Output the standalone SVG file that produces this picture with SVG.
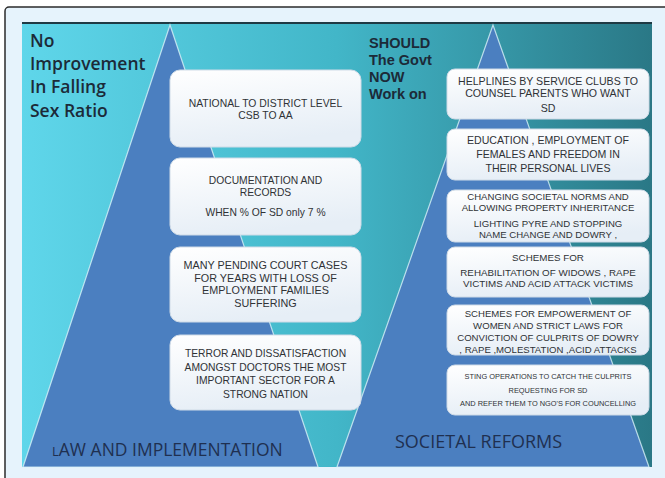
<svg xmlns="http://www.w3.org/2000/svg" width="665" height="478" viewBox="0 0 665 478">
  <style>
    .head { font-family: "Open Sans", "Liberation Sans", sans-serif; fill: #1c2a38; }
    .head-b { font-family: "Liberation Sans", Arial, sans-serif; font-weight: 700; fill: #1c2a38; }
    .base { font-family: "Open Sans", "Liberation Sans", sans-serif; fill: #1f3050; }
    .box { fill: url(#boxFill); stroke: #cfdbe7; stroke-width: 1; }
    .txt { font-family: "Liberation Sans", Arial, sans-serif; fill: #2f3236; text-anchor: middle; }
    .tri { fill: #4b7fc0; stroke: #d8f2f8; stroke-width: 1.2; stroke-opacity: 0.8; }
  </style>
  <defs>
    <linearGradient id="slideFill" x1="0" y1="0" x2="1" y2="0">
      <stop offset="0" stop-color="#5fd6ea"/>
      <stop offset="0.5" stop-color="#42b6c8"/>
      <stop offset="1" stop-color="#2a7886"/>
    </linearGradient>
    <linearGradient id="boxFill" x1="0" y1="0" x2="0.3" y2="1">
      <stop offset="0" stop-color="#ffffff"/>
      <stop offset="1" stop-color="#e6eef6"/>
    </linearGradient>
  </defs>

  <!-- page frame -->
  <rect x="5" y="7" width="680" height="490" rx="4" fill="#e6f3fc" stroke="#2b2b2b" stroke-width="1.5"/>

  <!-- slide background -->
  <rect x="22" y="22" width="630" height="445" fill="url(#slideFill)"/>
  <line x1="22" y1="23" x2="652" y2="23" stroke="#1f3a44" stroke-width="2"/>

  <!-- pyramids -->
  <g id="pyramids">
    <polygon class="tri" points="170,25 23,467 318,467"/>
    <polygon class="tri" points="493,25 337,467 649,467"/>
  </g>

  <!-- headings -->
  <g id="title-left">
    <text class="head" x="30" font-size="17.5" font-weight="600">
      <tspan x="30" y="47">No</tspan>
      <tspan x="30" y="70">Improvement</tspan>
      <tspan x="30" y="93">In Falling</tspan>
      <tspan x="30" y="117">Sex Ratio</tspan>
    </text>
  </g>
  <g id="title-right">
    <text class="head-b" x="369" font-size="14.5">
      <tspan x="369" y="48">SHOULD</tspan>
      <tspan x="369" y="65">The Govt</tspan>
      <tspan x="369" y="82">NOW</tspan>
      <tspan x="369" y="99">Work on</tspan>
    </text>
  </g>
  <g id="label-law">
    <text class="base" x="52" y="456" font-size="17.5"><tspan font-size="13">L</tspan>AW AND IMPLEMENTATION</text>
  </g>
  <g id="label-societal">
    <text class="base" x="395" y="448" font-size="18">SOCIETAL REFORMS</text>
  </g>

  <!-- law and implementation column -->
  <g id="law-1">
    <rect class="box" x="170" y="70" width="191" height="77" rx="10"/>
    <text class="txt" font-size="10.4"><tspan x="265.5" y="106.5">NATIONAL TO DISTRICT LEVEL</tspan><tspan x="265.5" y="119">CSB TO AA</tspan></text>
  </g>
  <g id="law-2">
    <rect class="box" x="170" y="158" width="191" height="77" rx="10"/>
    <text class="txt" font-size="10.3"><tspan x="265.5" y="184">DOCUMENTATION AND</tspan><tspan x="265.5" y="196">RECORDS</tspan><tspan x="265.5" y="216">WHEN % OF SD only 7 %</tspan></text>
  </g>
  <g id="law-3">
    <rect class="box" x="170" y="247" width="191" height="75" rx="10"/>
    <text class="txt" font-size="10.8"><tspan x="265.5" y="269">MANY PENDING COURT CASES</tspan><tspan x="265.5" y="281.5">FOR YEARS WITH LOSS OF</tspan><tspan x="265.5" y="294">EMPLOYMENT FAMILIES</tspan><tspan x="265.5" y="307">SUFFERING</tspan></text>
  </g>
  <g id="law-4">
    <rect class="box" x="170" y="335" width="191" height="75" rx="10"/>
    <text class="txt" font-size="10.3"><tspan x="265.5" y="357">TERROR AND DISSATISFACTION</tspan><tspan x="265.5" y="370.5">AMONGST DOCTORS THE MOST</tspan><tspan x="265.5" y="384">IMPORTANT SECTOR FOR A</tspan><tspan x="265.5" y="397.5">STRONG NATION</tspan></text>
  </g>

  <!-- societal reforms column -->
  <g id="reform-1">
    <rect class="box" x="447" y="69" width="202" height="50" rx="8"/>
    <text class="txt" font-size="10.6"><tspan x="548" y="85">HELPLINES BY SERVICE CLUBS TO</tspan><tspan x="548" y="97">COUNSEL PARENTS WHO WANT</tspan><tspan x="548" y="112">SD</tspan></text>
  </g>
  <g id="reform-2">
    <rect class="box" x="447" y="129" width="202" height="51" rx="8"/>
    <text class="txt" font-size="10.6"><tspan x="548" y="144">EDUCATION , EMPLOYMENT OF</tspan><tspan x="548" y="158">FEMALES AND FREEDOM IN</tspan><tspan x="548" y="172">THEIR PERSONAL LIVES</tspan></text>
  </g>
  <g id="reform-3">
    <rect class="box" x="447" y="190" width="202" height="52" rx="8"/>
    <text class="txt" font-size="9.6"><tspan x="548" y="199.5">CHANGING SOCIETAL NORMS AND</tspan><tspan x="548" y="211">ALLOWING  PROPERTY  INHERITANCE</tspan><tspan x="548" y="227">LIGHTING PYRE  AND STOPPING</tspan><tspan x="548" y="237.5">NAME CHANGE AND  DOWRY ,</tspan></text>
  </g>
  <g id="reform-4">
    <rect class="box" x="447" y="247" width="202" height="50" rx="8"/>
    <text class="txt" font-size="9.8"><tspan x="548" y="260.5">SCHEMES  FOR</tspan><tspan x="548" y="275.5">REHABILITATION OF WIDOWS , RAPE</tspan><tspan x="548" y="287">VICTIMS AND ACID ATTACK VICTIMS</tspan></text>
  </g>
  <g id="reform-5">
    <rect class="box" x="447" y="305" width="202" height="50" rx="8"/>
    <text class="txt" font-size="9.6"><tspan x="548" y="317">SCHEMES FOR EMPOWERMENT OF</tspan><tspan x="548" y="329">WOMEN AND STRICT  LAWS FOR</tspan><tspan x="548" y="341">CONVICTION  OF CULPRITS OF DOWRY</tspan><tspan x="548" y="353">, RAPE ,MOLESTATION ,ACID ATTACKS</tspan></text>
  </g>
  <g id="reform-6">
    <rect class="box" x="447" y="365" width="202" height="50" rx="8"/>
    <text class="txt" font-size="7.4"><tspan x="548" y="379">STING OPERATIONS TO CATCH THE CULPRITS</tspan><tspan x="548" y="393">REQUESTING  FOR SD</tspan><tspan x="548" y="406">AND REFER THEM TO NGO'S FOR COUNCELLING</tspan></text>
  </g>
</svg>
